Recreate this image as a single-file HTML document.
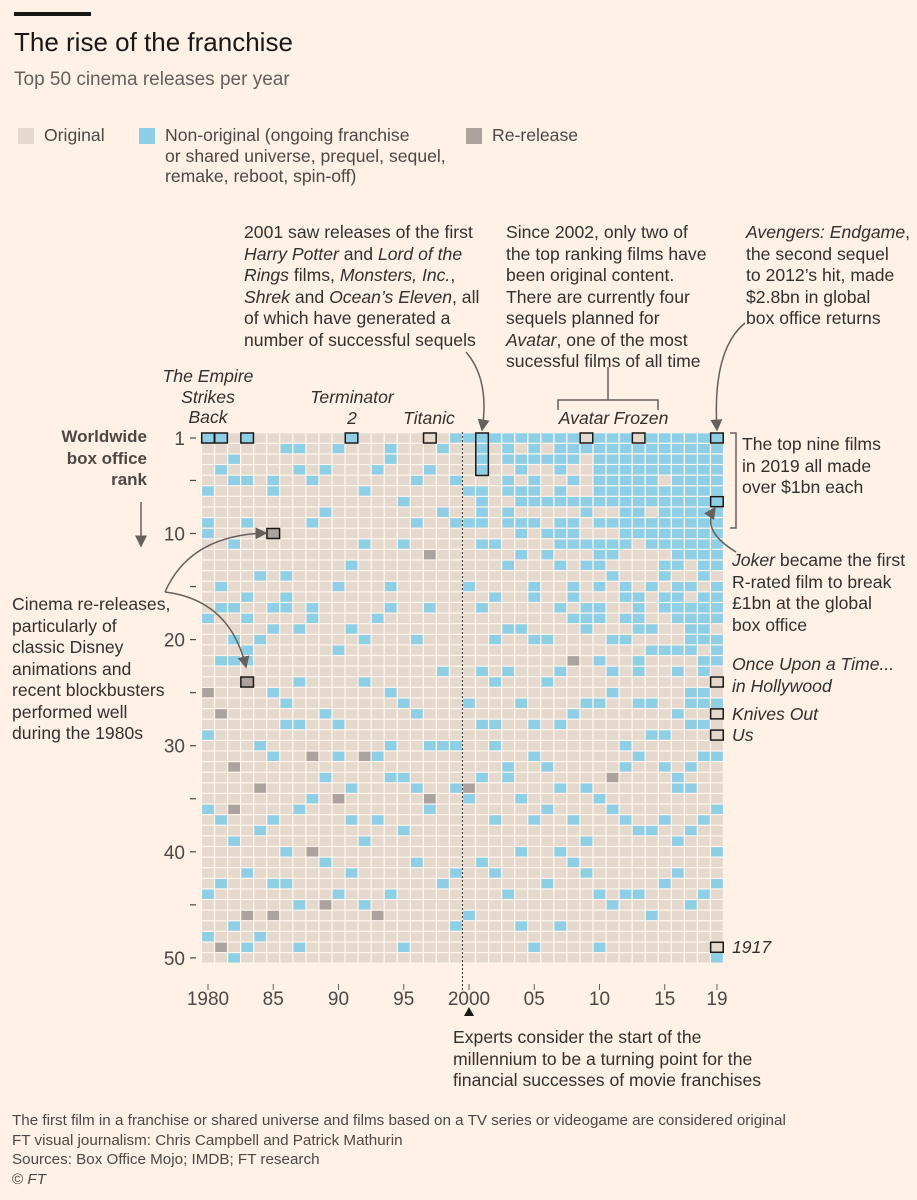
<!DOCTYPE html>
<html><head><meta charset="utf-8">
<style>
body{margin:0;background:#fff1e5;}
#wrap{position:relative;width:917px;height:1200px;background:#fff1e5;font-family:"Liberation Sans",sans-serif;color:#33302e;overflow:hidden}
.t{position:absolute;white-space:nowrap;font-size:17.6px;line-height:21.5px;color:#33302e}
.i{font-style:italic}
.g{color:#4d4845}
</style></head><body>
<div id="wrap">
<div style="position:absolute;left:14px;top:12px;width:77px;height:4px;background:#1a1817"></div>
<div class="t" style="left:14px;top:27px;font-size:26px;line-height:30px;color:#1a1817">The rise of the franchise</div>
<div class="t" style="left:14px;top:69px;font-size:19px;color:#66605c">Top 50 cinema releases per year</div>

<div style="position:absolute;left:18px;top:128px;width:16px;height:16px;background:#e5d8cd"></div>
<div class="t g" style="left:44px;top:125px">Original</div>
<div style="position:absolute;left:139px;top:128px;width:16px;height:16px;background:#8ecfe6"></div>
<div class="t g" style="left:165px;top:125px;line-height:20.5px">Non-original (ongoing franchise<br>or shared universe, prequel, sequel,<br>remake, reboot, spin-off)</div>
<div style="position:absolute;left:466px;top:128px;width:16px;height:16px;background:#aca39f"></div>
<div class="t g" style="left:492px;top:125px">Re-release</div>

<div class="t" style="left:244px;top:222px">2001 saw releases of the first<br><span class="i">Harry Potter</span> and <span class="i">Lord of the</span><br><span class="i">Rings</span> films, <span class="i">Monsters, Inc.</span>,<br><span class="i">Shrek</span> and <span class="i">Ocean’s Eleven</span>, all<br>of which have generated a<br>number of successful sequels</div>
<div class="t" style="left:506px;top:222px">Since 2002, only two of<br>the top ranking films have<br>been original content.<br>There are currently four<br>sequels planned for<br><span class="i">Avatar</span>, one of the most<br>sucessful films of all time</div>
<div class="t" style="left:746px;top:222px"><span class="i">Avengers: Endgame</span>,<br>the second sequel<br>to 2012’s hit, made<br>$2.8bn in global<br>box office returns</div>

<div class="t i" style="left:208px;top:366px;transform:translateX(-50%);text-align:center;line-height:20.5px">The Empire<br>Strikes<br>Back</div>
<div class="t i" style="left:352px;top:387px;transform:translateX(-50%);text-align:center;line-height:20.5px">Terminator<br>2</div>
<div class="t i" style="left:429px;top:408px;transform:translateX(-50%)">Titanic</div>
<div class="t i" style="left:584px;top:408px;transform:translateX(-50%)">Avatar</div>
<div class="t i" style="left:641px;top:408px;transform:translateX(-50%)">Frozen</div>
<div class="t i" style="left:211px;top:445px">ET</div>
<div class="t i" style="left:244px;top:445px;line-height:20.5px">Return of<br>the Jedi</div>
<div class="t" style="left:286px;top:522px"><span class="i">ET</span> (re-release)</div>
<div class="t" style="left:258px;top:661px;line-height:20.5px"><span class="i">Snow White and<br>the Seven Dwarfs</span><br>(re-release)</div>
<div class="t" style="left:12px;top:594px">Cinema re-releases,<br>particularly of<br>classic Disney<br>animations and<br>recent blockbusters<br>performed well<br>during the 1980s</div>

<div class="t" style="left:742px;top:434px">The top nine films<br>in 2019 all made<br>over $1bn each</div>
<div class="t" style="left:732px;top:550px"><span class="i">Joker</span> became the first<br>R-rated film to break<br>£1bn at the global<br>box office</div>
<div class="t i" style="left:732px;top:654px">Once Upon a Time...<br>in Hollywood</div>
<div class="t i" style="left:732px;top:704px">Knives Out</div>
<div class="t i" style="left:732px;top:725px">Us</div>
<div class="t i" style="left:732px;top:937px">1917</div>

<div class="t g" style="left:147px;top:426px;transform:translateX(-100%);text-align:right;font-weight:bold;font-size:17px;color:#4d4845">Worldwide<br>box office<br>rank</div>
<div class="t" style="left:453px;top:1027px">Experts consider the start of the<br>millennium to be a turning point for the<br>financial successes of movie franchises</div>

<div class="t" style="left:12px;top:1111px;font-size:15.2px;line-height:19.5px;color:#4d4845">The first film in a franchise or shared universe and films based on a TV series or videogame are considered original<br>FT visual journalism: Chris Campbell and Patrick Mathurin<br>Sources: Box Office Mojo; IMDB; FT research<br>© <span class="i">FT</span></div>

<svg id="chart" width="917" height="1200" style="position:absolute;left:0;top:0;overflow:visible">
<defs><marker id="ah" markerWidth="8" markerHeight="8" refX="7" refY="4" orient="auto"><path d="M0,0 L8,4 L0,8 Z" fill="#66605c"/></marker></defs>
</svg>
</div>
<script>
const years = [1980,1981,1982,1983,1984,1985,1986,1987,1988,1989,1990,1991,1992,1993,1994,1995,1996,1997,1998,1999,2000,2001,2002,2003,2004,2005,2006,2007,2008,2009,2010,2011,2012,2013,2014,2015,2016,2017,2018,2019];
const ranks = 50;
const cellTypes = [
"1000010011 0000000100 0000200010 0000010000 0001000100",
"1001000000 0000101000 0100002000 0000001000 0010000020",
"0010100000 1000001001 0100000000 0200020010 0000001001",
"1000100010 0000010100 1102000000 0000000000 0100020010",
"0000000000 0001000001 0000000001 0002000100 0000000100",
"0000110002 0000001010 0000100000 1000001000 0010020000",
"0100000000 0001011000 0000010100 0000000001 0010000000",
"0101000000 0000000010 0001000100 0000010000 0000100010",
"0000100010 0000001100 0000000000 2000100002 0000000000",
"0001000100 0000000000 0000001000 0010000000 1000200000",
"0100000000 0000100000 1000000100 1000200000 0001000000",
"1000000000 0010000010 0000000000 0001001000 0100000000",
"0000010000 1000000001 0001000000 2000000010 0000100000",
"0001000000 0000000100 0000000000 1000001000 0000020000",
"0110000000 0000101000 0000100001 0010000000 0001000000",
"0000001000 1000000000 0000010000 0010000100 0000000010",
"0000100010 0000000001 0000001000 0001000000 1000000000",
"0001000000 0200001000 0000000001 0000210000 0000000000",
"0100000100 0000000000 0010000001 0000000000 0010000000",
"1000100010 0000000000 0000000001 0001000000 0100001000",
"1000010010 0000100000 0000010000 0002100000 0000010000",
"1111011110 1000001000 0010000100 0010000000 1000000000",
"1000000000 1000010001 0001000101 0000001000 0100000000",
"1110110110 0010000010 0010000000 0110000000 0001000000",
"1011011011 0100000010 0000010000 0000100001 0000001000",
"1110111010 0000110001 0000000100 1000001000 0000000010",
"1010001001 0100000001 0001000000 0100010000 0010000000",
"1111011011 1010001000 0010000100 0001000001 0000001000",
"1110101011 1000110100 0200001000 0000001000 1000000000",
"0100001100 1010001110 0000010000 0001000010 0100000000",
"1111111010 1110101100 0100010000 0000100000 0001000010",
"1111111010 1101000001 0010100000 0020010000 0000100000",
"1111111111 1000110101 0000000001 0100001000 0001000000",
"0111111111 0000011110 0110010000 1000000100 0001000000",
"1111111011 1000100010 1000010010 0000000100 0000010000",
"1111011111 1011011000 1000000010 0100001000 0010000000",
"1111111111 1110111100 1010001000 0011000010 0100000000",
"1111111111 1100101111 1000110100 0101000100 0000100000",
"1111111111 1111011111 0110110100 1000001000 0001000000",
"1111111111 1110111101 1100010000 1000010001 0010000001"
];
const xTickLabels = ["1980","85","90","95","2000","05","10","15","19"];
const xTickYears = [1980,1985,1990,1995,2000,2005,2010,2015,2019];
const yTickLabels = ["1","–","10","–","20","–","30","–","40","–","50"];
const yTickRanks = [1,5,10,15,20,25,30,35,40,45,50];
const highlightYears = [1980,1981,1983,1991,1997,2009,2013,2019,2019,2019,2019,2019,2019,1985,1983];
const highlightRanks = [1,1,1,1,1,1,1,1,7,24,27,29,49,10,24];

const colors = ["#e5d8cd","#8ecfe6","#aca39f"];
const svg = document.getElementById('chart');
const NS = "http://www.w3.org/2000/svg";
const x0 = 208, pitchX = 13.05, y0 = 438, pitchY = 10.61;
const xScale = y => x0 + (y - 1980) * pitchX;
const yScale = r => y0 + (r - 1) * pitchY;
function mk(tag, attrs){const e=document.createElementNS(NS,tag);for(const k in attrs)e.setAttribute(k,attrs[k]);svg.appendChild(e);return e;}

const gridBg = mk('rect',{x:xScale(1980)-6.5,y:yScale(1)-5.3,width:pitchX*40,height:pitchY*50,fill:'#fff6ee'});



years.forEach((yr, i) => {
  const s = cellTypes[i].replace(/ /g,'');
  for (let r = 1; r <= ranks; r++) {
    const c = mk('rect',{x:(xScale(yr)-5.9).toFixed(2),y:(yScale(r)-4.7).toFixed(2),width:11.8,height:9.4,fill:colors[+s[r-1]]});
    
    
  }
});

highlightYears.forEach((yr,i)=>{
  const r = highlightRanks[i];
  const b = mk('rect',{x:xScale(yr)-6.3,y:yScale(r)-5,width:12.6,height:10,fill:'none',stroke:'#1a1817','stroke-width':1.5});
  
  
});
const b01 = mk('rect',{x:xScale(2001)-6.3,y:yScale(1)-5,width:12.6,height:pitchY*4,fill:'none',stroke:'#1a1817','stroke-width':1.5});



const dl = mk('line',{x1:xScale(1999)+6.5,x2:xScale(1999)+6.5,y1:432,y2:992,stroke:'#33302e','stroke-width':1,'stroke-dasharray':'2,2'});



xTickYears.forEach((yr,i)=>{
  const t = mk('text',{x:xScale(yr),y:1005,'text-anchor':'middle','font-size':19,fill:'#4d4845','font-family':'Liberation Sans, sans-serif'});
  t.textContent = xTickLabels[i];
  
  
  const tk = mk('line',{x1:xScale(yr),x2:xScale(yr),y1:984,y2:990,stroke:'#66605c'});
  
  
});
yTickRanks.forEach((r,i)=>{
  const lab = yTickLabels[i];
  if (lab !== '–') {
    const t = mk('text',{x:185,y:yScale(r)+7,'text-anchor':'end','font-size':19,fill:'#4d4845','font-family':'Liberation Sans, sans-serif'});
    t.textContent = lab;
    
    
  }
  const tk = mk('line',{x1:190,x2:196,y1:yScale(r),y2:yScale(r),stroke:'#4d4845','stroke-width':1.2});
  
  
});

function path(d,name,arrow){const p=mk('path',{d:d,fill:'none',stroke:'#66605c','stroke-width':1.5});if(arrow)p.setAttribute('marker-end','url(#ah)');}
path('M141,502 L141,546','y-axis-arrow',true);
path('M466,352 Q490,380 482,430','arrow-2001',true);
path('M745,323 Q712,350 717,430','arrow-endgame',true);
path('M736,552 Q700,530 715,508','arrow-joker',true);
path('M165,592 Q190,535 266,533','arrow-et-rerelease',true);
path('M165,592 Q230,600 246,667','arrow-snow-white',true);
path('M558,410 L558,400 L658,400 L658,410 M608,400 L608,367','bracket-avatar-frozen',false);
path('M730,433 L736,433 L736,528 L730,528','bracket-top-nine',false);
const tri = mk('path',{d:'M469,1007 L474,1016 L464,1016 Z',fill:'#1a1817'});


</script>
</body></html>
